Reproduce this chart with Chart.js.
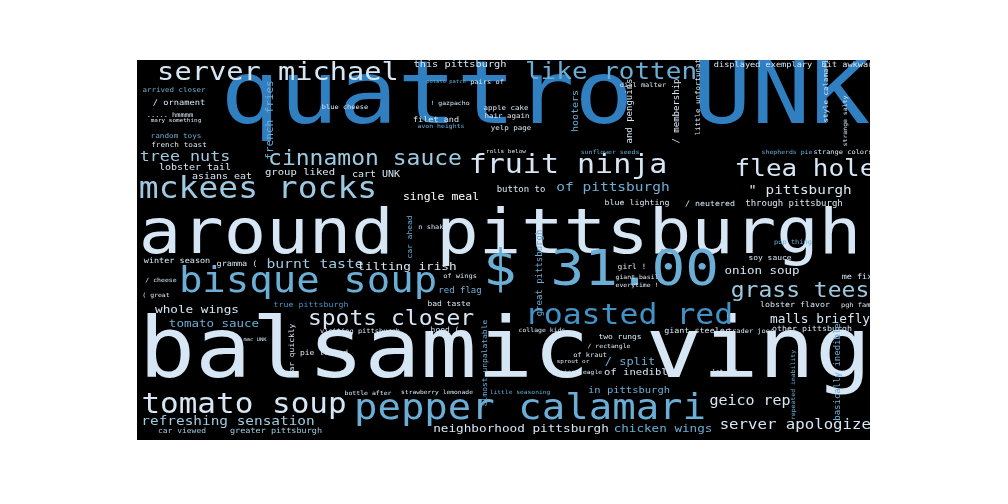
<!DOCTYPE html>
<html>
<head>
<meta charset="utf-8">
<script src="https://cdn.jsdelivr.net/npm/chart.js@4"></script>
<style>
  html, body { margin: 0; background: #fff; }
  #wrap { width: 1008px; height: 504px; }
</style>
</head>
<body>
<div id="wrap"><canvas id="cloud"></canvas></div>
<script>
// word cloud data: word, centre position, weight (font px), shade index
const words = ["quattro UNK", "around pittsburgh", "balsamic ving", "$ 31.00", "server michael", "like rotten",
  "fruit ninja", "cinnamon sauce", "mckees rocks", "flea hole", "tree nuts", "bisque soup", "grass tees",
  "roasted red", "spots closer", "tomato soup", "pepper calamari", "malls briefly", "server apologizes",
  "refreshing sensation", "neighborhood pittsburgh", "chicken wings", "geico rep", "burnt taste", "onion soup",
  "single meal", "of pittsburgh", "\" pittsburgh", "whole wings", "tomato sauce", "lilting irish", "group liked",
  "cart UNK", "through pittsburgh", "in pittsburgh", "greater pittsburgh", "car viewed", "lobster flavor",
  "french fries", "random toys", "french toast", "lobster tail", "asians eat", "winter season", "gramma (",
  "true pittsburgh", "visiting pittsburgh", "pie looked", "bad taste", "red flag", "blue lighting", "/ neutered",
  "soy sauce", "me fix", "pgh family", "other pittsburgh", "giant steeler", "trader joes", "two rungs",
  "of inedible", "giant eagle", "/ split", "basically inedible", "bit awkward", "displayed exemplary",
  "this pittsburgh", "arrived closer", "/ ornament", "blue cheese", "filet and", "yelp page", "apple cake",
  "hair again", "! gazpacho", "hooters", "/ membership", "little unfortunate", "style calamari",
  "sunflower seeds", "strange colors", "shepherds pie", "rolls below", "button to", "almost unpalatable",
  "great pittsburgh", "car quickly", "hood (", "collage kids", "strawberry lemonade", "bottle after",
  "little seasoning", "mac UNK", "pop thing", "girl !", "n shake", "of wings", "everytime !", "giant basil",
  "sprout or", "lst off", "/ rectangle", "of kraut", "cir a", "/ cheese", "( great", "car ahead", "pairs of",
  "potato patch", "dial malter", "and penguins", "..... hmmmm", "mary something", "strange salty",
  "repeated inability", "avon heights"];
const wordX = [545, 500, 505, 601, 278, 611, 568, 365, 258, 805, 185, 308, 800, 629, 391, 244, 530, 820, 800,
  228, 521, 663, 750, 315, 762, 441, 613, 800, 197, 214, 407, 300, 376, 794, 629, 276, 182, 795,
  270, 176, 179, 195, 222, 177, 237, 311, 360, 324, 449, 460, 637, 710, 770, 857, 862, 812, 697, 751, 620,
  639, 581, 630, 838, 850, 763, 460, 174, 179, 345, 436, 511, 506, 507, 450, 576, 677, 698, 826,
  610, 843, 787, 506, 521, 485, 540, 292, 445, 542, 437, 368, 520, 255, 793, 632, 433, 460, 637, 637,
  573, 725, 609, 590, 225, 161, 156, 410, 487, 446, 643, 630, 170, 176, 845, 793, 441];
const wordY = [100, 237, 355, 272, 73, 73, 166, 160, 190, 170, 157, 283, 292, 317, 320, 406, 410, 320, 425,
  422, 429, 429, 402, 265, 271, 197, 188, 191, 310, 324, 267, 173, 175, 204, 391, 431, 431, 305,
  120, 136, 145, 168, 177, 261, 264, 305, 331, 353, 304, 291, 203, 204, 258, 277, 305, 329, 331, 331, 337,
  373, 373, 362, 372, 65, 65, 65, 90, 103, 107, 120, 128, 108, 116, 103, 111, 111, 95, 91,
  152, 152, 152, 152, 190, 363, 273, 350, 330, 330, 393, 393, 393, 340, 242, 267, 227, 276, 285, 277,
  362, 372, 346, 355, 353, 280, 295, 237, 82, 82, 85, 111, 115, 121, 121, 385, 126];
const wordWeight = [98, 70.6, 93.6, 56, 28.7, 26, 30, 23, 33, 26, 16.7, 39, 23, 31.5, 23, 31, 39, 12.8, 15.7,
  14.4, 12.7, 12.6, 15, 14.7, 12.5, 11.5, 14.5, 14.3, 12.7, 12.5, 12.7, 10.6, 10, 9, 10.5, 8.5, 8, 8.3,
  11, 7.7, 7.7, 10, 10, 8.5, 8.5, 8.3, 7, 8, 8, 9, 8.3, 8.3, 8, 8.5, 7, 8.3, 8.4, 7, 8,
  10.6, 6.4, 12, 9, 8.6, 8.6, 10.3, 7.5, 8.7, 7, 8.5, 7.5, 7.5, 7.5, 6.5, 10, 9, 7.5, 7.5,
  6.5, 7, 6.5, 6, 9, 8, 9, 8, 8, 6.5, 6.3, 6.5, 6.3, 5.5, 7, 8, 7, 7, 6.5, 6.5,
  6, 6, 6.5, 7, 6, 6.5, 6.5, 8, 7, 5.5, 7, 9, 7, 6, 6.5, 6.5, 6.5];
const wordShade = [3, 0, 0, 2, 0, 2, 0, 1, 1, 0, 1, 2, 1, 5, 0, 0, 2, 0, 0,
  1, 0, 2, 0, 1, 0, 4, 2, 0, 0, 2, 0, 0, 0, 0, 2, 1, 1, 0,
  2, 2, 0, 0, 0, 0, 0, 5, 0, 0, 0, 2, 0, 0, 0, 0, 0, 0, 0, 0, 0,
  0, 0, 2, 2, 0, 0, 0, 2, 0, 0, 0, 0, 0, 0, 0, 2, 0, 0, 0,
  2, 0, 2, 0, 0, 2, 2, 0, 0, 0, 0, 0, 2, 0, 2, 0, 0, 0, 0, 0,
  0, 0, 0, 0, 0, 0, 0, 2, 0, 2, 0, 0, 0, 0, 0, 2, 2];
const verticalWords = ["french fries", "basically inedible", "hooters", "/ membership", "little unfortunate",
  "style calamari", "almost unpalatable", "great pittsburgh", "car quickly", "car ahead", "and penguins",
  "strange salty", "repeated inability"];

const shades = ["#d6e6f4", "#9ecae1", "#6baed6", "#2f7fc1", "#ffffff", "#4292c6"];
const stretch = 1.12;

const points = words.map((w, i) => ({ x: wordX[i], y: wordY[i] }));

const cloudPlugin = {
  id: "cloud",
  beforeDatasetsDraw(chart) {
    const { ctx, chartArea: a, scales } = chart;
    ctx.save();
    ctx.fillStyle = "#000";
    ctx.fillRect(a.left, a.top, a.right - a.left, a.bottom - a.top);
    ctx.beginPath();
    ctx.rect(a.left, a.top, a.right - a.left, a.bottom - a.top);
    ctx.clip();
    ctx.textAlign = "center";
    ctx.textBaseline = "middle";
    words.forEach((w, i) => {
      const px = scales.x.getPixelForValue(wordX[i]);
      const py = scales.y.getPixelForValue(wordY[i]);
      ctx.font = (wordWeight[i] / stretch).toFixed(2) + "px 'DejaVu Sans Mono'";
      ctx.fillStyle = shades[wordShade[i]];
      ctx.save();
      ctx.translate(px, py);
      if (verticalWords.includes(w)) ctx.rotate(-Math.PI / 2);
      ctx.scale(stretch, 1);
      ctx.fillText(w, 0, 0);
      ctx.restore();
    });
    ctx.restore();
  }
};

new Chart(document.getElementById("cloud"), {
  type: "scatter",
  data: { datasets: [{ data: points, pointRadius: 0 }] },
  options: {
    responsive: true,
    maintainAspectRatio: false,
    animation: false,
    layout: { padding: { left: 137, right: 138, top: 60, bottom: 64 } },
    plugins: { legend: { display: false }, tooltip: { enabled: false } },
    scales: {
      x: { display: false, min: 137, max: 870 },
      y: { display: false, min: 60, max: 440, reverse: true }
    }
  },
  plugins: [cloudPlugin]
});
</script>
</body>
</html>
